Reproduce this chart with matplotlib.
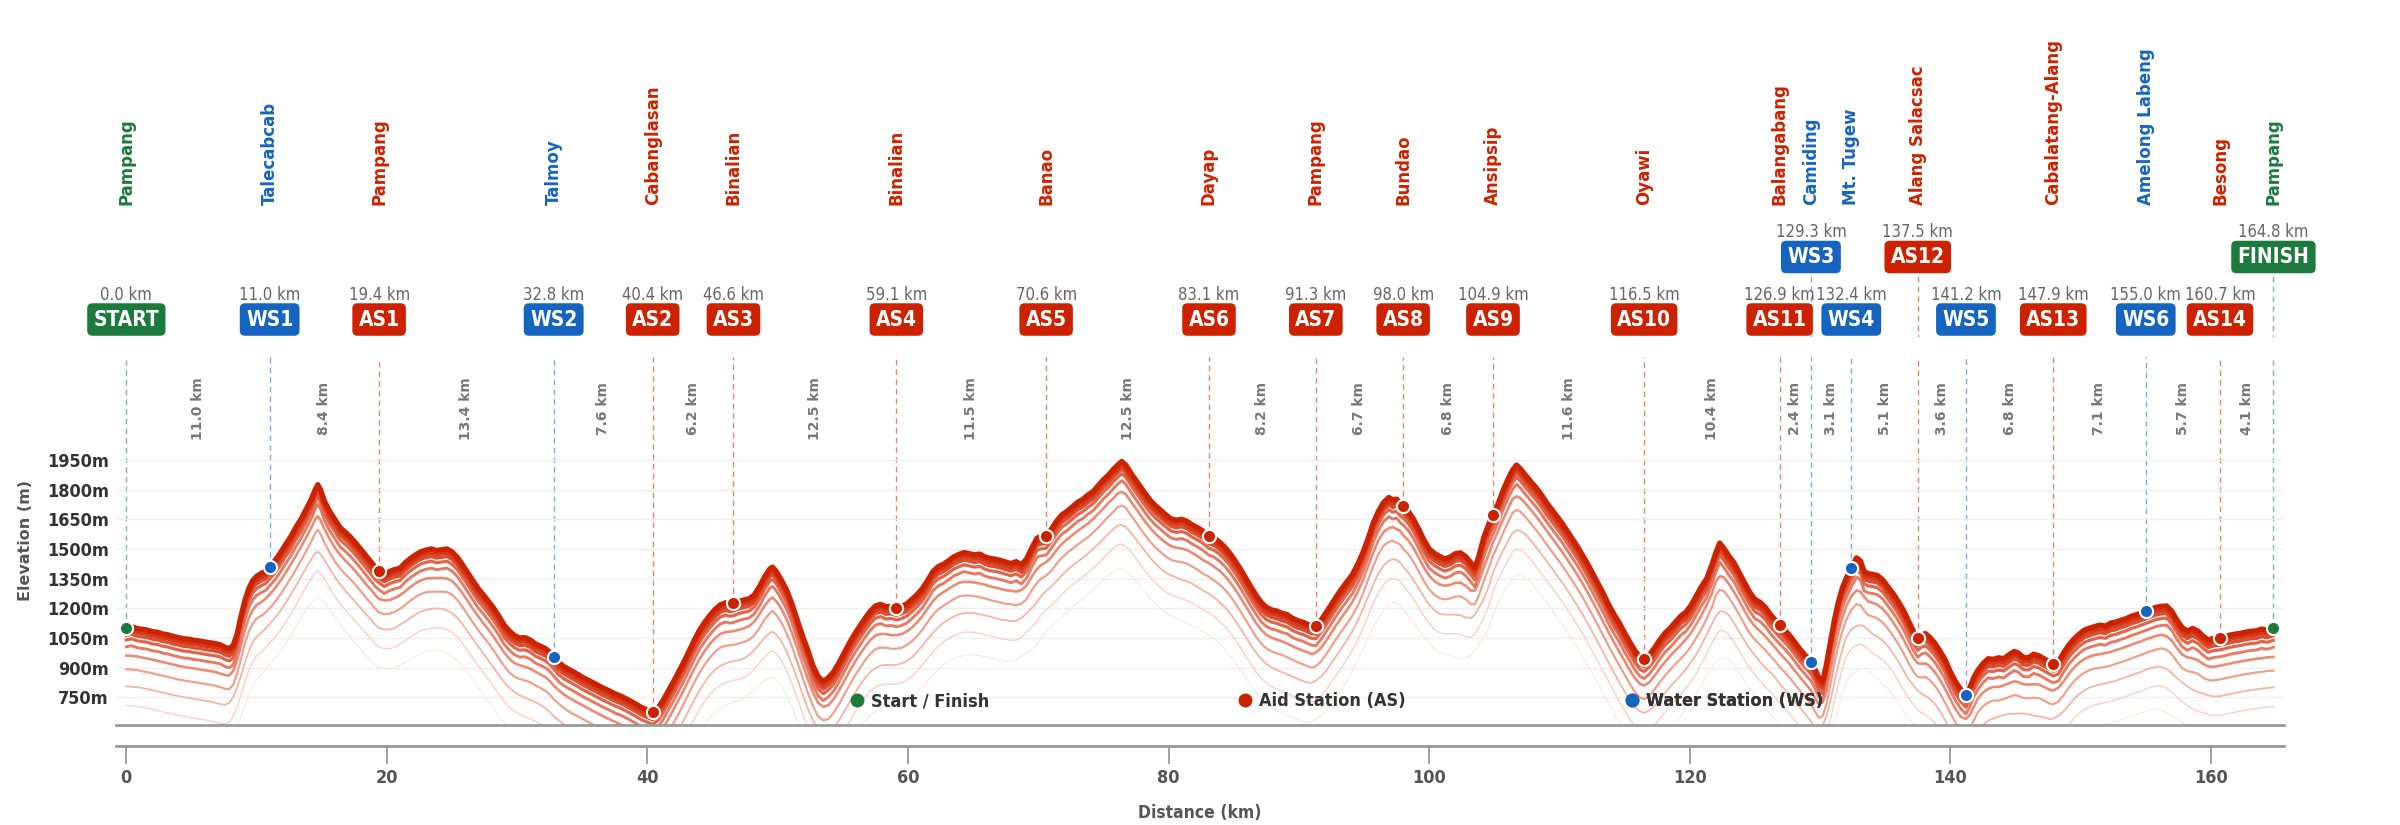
import numpy as np
import matplotlib
matplotlib.use("Agg")
import matplotlib.pyplot as plt
from matplotlib.lines import Line2D

# elevation profile (km, m)
dist = [0.0, 0.4, 0.8, 1.2, 1.6, 2.0, 2.4, 2.8, 3.2, 3.6, 4.0, 4.4, 4.8, 5.2, 5.6, 6.0, 6.4, 6.8, 7.2, 7.6,
        7.9, 8.2, 8.5, 8.8, 9.1, 9.4, 9.7, 10.0, 10.4, 10.7, 11.0, 11.4, 11.8, 12.2, 12.6, 13.0, 13.4, 13.8,
        14.2, 14.5, 14.7, 14.9, 15.2, 15.6, 16.0, 16.4, 16.8, 17.2, 17.6, 18.0, 18.4, 18.8, 19.1, 19.4, 19.8,
        20.2, 20.6, 21.0, 21.4, 21.8, 22.2, 22.6, 23.0, 23.4, 23.8, 24.2, 24.6, 25.0, 25.4, 25.8, 26.2, 26.6,
        27.0, 27.4, 27.8, 28.2, 28.6, 29.0, 29.4, 29.8, 30.2, 30.6, 31.0, 31.4, 31.8, 32.2, 32.5, 32.8, 33.2,
        33.6, 34.0, 34.5, 35.0, 35.5, 36.0, 36.5, 37.0, 37.5, 38.0, 38.5, 39.0, 39.5, 40.0, 40.4, 40.8, 41.2,
        41.6, 42.0, 42.4, 42.8, 43.2, 43.6, 44.0, 44.4, 44.8, 45.2, 45.6, 46.0, 46.3, 46.6, 47.0, 47.4, 47.8,
        48.2, 48.6, 49.0, 49.4, 49.6, 49.9, 50.3, 50.7, 51.1, 51.5, 51.9, 52.3, 52.7, 53.1, 53.5, 53.9, 54.3,
        54.7, 55.1, 55.5, 55.9, 56.3, 56.7, 57.1, 57.5, 57.9, 58.3, 58.7, 59.1, 59.5, 59.9, 60.3, 60.7, 61.1,
        61.5, 61.9, 62.3, 62.7, 63.1, 63.5, 63.9, 64.3, 64.7, 65.1, 65.5, 65.9, 66.3, 66.7, 67.1, 67.5, 67.9,
        68.3, 68.7, 69.1, 69.5, 69.9, 70.2, 70.6, 71.0, 71.4, 71.8, 72.2, 72.6, 73.0, 73.4, 73.8, 74.2, 74.6,
        75.0, 75.4, 75.8, 76.1, 76.4, 76.7, 77.0, 77.4, 77.8, 78.2, 78.6, 79.0, 79.4, 79.8, 80.2, 80.6, 81.0,
        81.4, 81.8, 82.2, 82.6, 83.1, 83.5, 83.9, 84.3, 84.7, 85.1, 85.5, 85.9, 86.3, 86.7, 87.1, 87.5, 87.9,
        88.3, 88.7, 89.1, 89.5, 89.9, 90.3, 90.7, 91.0, 91.3, 91.7, 92.1, 92.5, 92.9, 93.3, 93.7, 94.1, 94.5,
        94.9, 95.3, 95.7, 96.1, 96.5, 96.9, 97.2, 97.5, 97.8, 98.0, 98.4, 98.8, 99.2, 99.6, 100.0, 100.4,
        100.8, 101.2, 101.6, 102.0, 102.4, 102.8, 103.2, 103.5, 103.8, 104.2, 104.6, 104.9, 105.3, 105.7,
        106.1, 106.4, 106.7, 107.0, 107.4, 107.8, 108.2, 108.6, 109.0, 109.4, 109.8, 110.2, 110.6, 111.0,
        111.4, 111.8, 112.2, 112.6, 113.0, 113.4, 113.8, 114.2, 114.6, 115.0, 115.4, 115.8, 116.2, 116.5,
        116.9, 117.3, 117.7, 118.1, 118.5, 118.9, 119.3, 119.7, 120.1, 120.5, 120.9, 121.3, 121.7, 122.0,
        122.3, 122.6, 123.0, 123.4, 123.8, 124.2, 124.6, 125.0, 125.4, 125.8, 126.2, 126.6, 126.9, 127.3,
        127.7, 128.1, 128.5, 128.9, 129.3, 129.6, 129.9, 130.2, 130.5, 130.8, 131.1, 131.4, 131.7, 132.0,
        132.4, 132.8, 133.1, 133.4, 133.7, 134.0, 134.4, 134.8, 135.2, 135.6, 136.0, 136.4, 136.8, 137.2,
        137.5, 137.8, 138.1, 138.4, 138.8, 139.2, 139.6, 140.0, 140.4, 140.8, 141.2, 141.5, 141.8, 142.1,
        142.5, 142.9, 143.3, 143.7, 144.1, 144.5, 144.9, 145.2, 145.6, 146.0, 146.4, 146.8, 147.2, 147.6,
        147.9, 148.3, 148.7, 149.1, 149.5, 149.9, 150.3, 150.7, 151.1, 151.5, 151.9, 152.3, 152.7, 153.1,
        153.5, 153.9, 154.3, 154.7, 155.0, 155.4, 155.8, 156.2, 156.6, 157.0, 157.4, 157.8, 158.2, 158.6,
        159.0, 159.4, 159.8, 160.2, 160.7, 161.1, 161.5, 161.9, 162.3, 162.7, 163.1, 163.5, 163.9, 164.3,
        164.8]
elev = [1102, 1108, 1098, 1094, 1090, 1082, 1079, 1070, 1066, 1058, 1052, 1046, 1044, 1038, 1035, 1030,
        1026, 1022, 1016, 1002, 996, 1012, 1070, 1160, 1240, 1300, 1340, 1362, 1378, 1388, 1410, 1440, 1478,
        1520, 1560, 1608, 1650, 1700, 1752, 1800, 1825, 1800, 1742, 1690, 1650, 1608, 1585, 1560, 1530, 1498,
        1465, 1432, 1408, 1390, 1372, 1386, 1396, 1402, 1430, 1452, 1470, 1486, 1494, 1500, 1492, 1496, 1500,
        1485, 1458, 1420, 1380, 1340, 1300, 1268, 1235, 1200, 1160, 1115, 1085, 1062, 1050, 1052, 1040, 1020,
        1008, 995, 978, 955, 925, 905, 890, 872, 852, 835, 818, 800, 785, 768, 755, 738, 720, 700, 686, 675,
        695, 735, 782, 830, 880, 930, 985, 1040, 1090, 1130, 1165, 1195, 1218, 1228, 1222, 1225, 1235, 1242,
        1248, 1268, 1310, 1360, 1400, 1408, 1385, 1340, 1290, 1220, 1140, 1060, 990, 910, 855, 830, 850, 880,
        925, 975, 1025, 1070, 1110, 1150, 1185, 1212, 1220, 1208, 1210, 1203, 1210, 1222, 1245, 1270, 1300,
        1340, 1385, 1410, 1422, 1440, 1460, 1472, 1482, 1476, 1470, 1474, 1460, 1452, 1448, 1442, 1434, 1426,
        1436, 1420, 1450, 1505, 1555, 1562, 1566, 1600, 1640, 1672, 1690, 1712, 1735, 1750, 1772, 1790, 1820,
        1850, 1875, 1905, 1925, 1942, 1925, 1895, 1855, 1818, 1780, 1745, 1718, 1695, 1672, 1652, 1645, 1650,
        1640, 1622, 1608, 1592, 1565, 1555, 1535, 1510, 1478, 1440, 1400, 1355, 1310, 1268, 1230, 1205, 1192,
        1186, 1175, 1168, 1150, 1138, 1130, 1118, 1110, 1108, 1140, 1180, 1220, 1262, 1300, 1335, 1370, 1420,
        1480, 1550, 1630, 1690, 1735, 1760, 1748, 1752, 1728, 1718, 1690, 1650, 1600, 1545, 1500, 1478, 1462,
        1450, 1458, 1476, 1480, 1462, 1430, 1405, 1460, 1560, 1630, 1672, 1730, 1800, 1860, 1898, 1924, 1905,
        1872, 1840, 1810, 1775, 1735, 1700, 1665, 1630, 1590, 1550, 1510, 1465, 1420, 1370, 1320, 1270, 1215,
        1168, 1125, 1075, 1030, 985, 952, 942, 965, 1000, 1040, 1075, 1100, 1130, 1160, 1180, 1215, 1262, 1310,
        1350, 1420, 1480, 1530, 1505, 1465, 1430, 1380, 1330, 1282, 1245, 1230, 1205, 1168, 1138, 1117, 1090,
        1060, 1025, 990, 960, 930, 895, 850, 830, 920, 1030, 1140, 1230, 1300, 1350, 1405, 1455, 1440, 1385,
        1375, 1372, 1366, 1345, 1310, 1275, 1235, 1190, 1135, 1080, 1050, 1066, 1072, 1055, 1025, 985, 940,
        880, 830, 790, 762, 800, 850, 885, 920, 945, 942, 950, 945, 965, 982, 975, 952, 950, 968, 960, 945,
        930, 920, 930, 975, 1015, 1045, 1070, 1090, 1100, 1108, 1115, 1110, 1125, 1130, 1140, 1148, 1160,
        1168, 1178, 1185, 1195, 1205, 1210, 1212, 1185, 1140, 1102, 1085, 1098, 1085, 1060, 1040, 1048, 1052,
        1058, 1065, 1070, 1074, 1080, 1084, 1086, 1095, 1090, 1100]

# stations
st_km = [0.0, 11.0, 19.4, 32.8, 40.4, 46.6, 59.1, 70.6, 83.1, 91.3, 98.0, 104.9, 116.5, 126.9,
         129.3, 132.4, 137.5, 141.2, 147.9, 155.0, 160.7, 164.8]
st_code = ["START", "WS1", "AS1", "WS2", "AS2", "AS3", "AS4", "AS5", "AS6", "AS7", "AS8", "AS9",
           "AS10", "AS11", "WS3", "WS4", "AS12", "WS5", "AS13", "WS6", "AS14", "FINISH"]
st_name = ["Pampang", "Talecabcab", "Pampang", "Talmoy", "Cabanglasan", "Binalian", "Binalian",
           "Banao", "Dayap", "Pampang", "Bundao", "Ansipsip", "Oyawi", "Balangabang", "Camiding",
           "Mt. Tugew", "Alang Salacsac", "", "Cabalatang-Alang", "Amelong Labeng", "Besong", "Pampang"]
st_row = [1, 1, 1, 1, 1, 1, 1, 1, 1, 1, 1, 1, 1, 1, 2, 1, 2, 1, 1, 1, 1, 2]
seg_labels = ["11.0 km", "8.4 km", "13.4 km", "7.6 km", "6.2 km", "12.5 km", "11.5 km", "12.5 km",
              "8.2 km", "6.7 km", "6.8 km", "11.6 km", "10.4 km", "2.4 km", "3.1 km", "5.1 km",
              "3.6 km", "6.8 km", "7.1 km", "5.7 km", "4.1 km"]
yticks = [750, 900, 1050, 1200, 1350, 1500, 1650, 1800, 1950]
xticks = [0, 20, 40, 60, 80, 100, 120, 140, 160]
legend_labels = ["Start / Finish", "Aid Station (AS)", "Water Station (WS)"]

GREEN, RED, BLUE = "#1b7a3c", "#cc2200", "#1565c0"


def kind_color(code):
    if code in ("START", "FINISH"):
        return GREEN
    if code.startswith("WS"):
        return BLUE
    return RED


COND = dict(family="DejaVu Sans", fontstretch="condensed")

dist = np.array(dist)
elev = np.array(elev, dtype=float)
st_elev = np.interp(st_km, dist, elev)

fig = plt.figure(figsize=(24, 8.25), dpi=100)
ax = fig.add_axes([0.0483, 0.1212, 0.9033, 0.4461])
top = fig.add_axes([0.0483, 0.5915, 0.9033, 0.4085])
xlim = (-0.8, 165.6)
ylim = (610, 2470)

# glow layers, lightest at the bottom
offsets = [505, 394, 297, 212, 143, 97, 62, 38, 20, 0]
colors = ["#fde6e1", "#f9d0c7", "#f4b5a7", "#efa08e", "#eb8b75", "#e77962", "#e2654a", "#db4e30",
          "#d43a1c", "#cc2200"]
widths = [0.8, 1.0, 1.3, 1.6, 1.9, 2.1, 2.3, 2.5, 2.8, 3.8]
smooth = [7, 5, 5, 3, 3, 1, 1, 1, 1, 1]
for off, c, w, s in zip(offsets, colors, widths, smooth):
    if s > 1:
        padded = np.pad(elev, s // 2, mode="edge")
        y = np.convolve(padded, np.ones(s) / s, mode="valid")
    else:
        y = elev
    ax.plot(dist, y - off, color=c, lw=w, solid_joinstyle="round", zorder=2)

for k, e, code in zip(st_km, st_elev, st_code):
    c = kind_color(code)
    ax.vlines(k, e, ylim[1], colors=c, linestyles=(0, (4, 3)), lw=1.0, alpha=0.55, zorder=1)
    ax.plot(k, e, "o", color=c, ms=9.5, mec="white", mew=1.5, zorder=5)

mids = [(a + b) / 2 for a, b in zip(st_km[:-1], st_km[1:])]
for m, lab in zip(mids, seg_labels):
    ax.text(m, 0.861, lab, transform=ax.get_xaxis_transform(), rotation=90, ha="center", va="center",
            fontsize=10, fontweight="bold", color="#777777")

ax.set_xlim(*xlim)
ax.set_ylim(*ylim)
for s in ("top", "right", "left"):
    ax.spines[s].set_visible(False)
ax.spines["bottom"].set_position(("outward", 15))
ax.spines["bottom"].set_color("#999999")
ax.spines["bottom"].set_linewidth(2)
ax.set_yticks(yticks, labels=[f"{t}m" for t in yticks])
ax.set_xticks(xticks, labels=[str(t) for t in xticks])
ax.tick_params(axis="y", length=0, pad=5)
ax.tick_params(axis="x", length=13, width=1.3, color="#999999", pad=4)
for lab in ax.get_yticklabels():
    lab.set(fontweight="bold", color="#333333", fontsize=13, **COND)
for lab in ax.get_xticklabels():
    lab.set(fontweight="bold", color="#555555", fontsize=13, **COND)
ax.grid(axis="y", color="#eeeeee", lw=1.0, zorder=0)
ax.axhline(ylim[0], color="#999999", lw=2, clip_on=False, zorder=6)
ax.set_ylabel("Elevation (m)", fontsize=11.5, fontweight="bold", color="#555555", labelpad=10)
ax.set_xlabel("Distance (km)", fontsize=12.5, fontweight="bold", color="#555555", labelpad=12, **COND)

# one legend entry per slot, evenly spaced
for lab, c, fx in zip(legend_labels, [GREEN, RED, BLUE], [0.3385, 0.5175, 0.6960]):
    h = Line2D([], [], ls="", marker="o", color=c, ms=9)
    leg = ax.legend([h], [lab], loc="center left", bbox_to_anchor=(fx, 0.065), frameon=False,
                    borderpad=0, borderaxespad=0, handletextpad=0.4, handlelength=0.8,
                    prop=dict(size=13, weight="bold", family="DejaVu Sans", stretch="condensed"))
    leg.get_texts()[0].set_color("#333333")
    ax.add_artist(leg)

# annotation strip above the profile
top.set_xlim(*xlim)
top.set_ylim(337, 0)
top.axis("off")
for k, code, name, row in zip(st_km, st_code, st_name, st_row):
    c = kind_color(code)
    by = 319.5 if row == 1 else 257
    top.vlines(k, by, 337, colors=c, linestyles=(0, (4, 3)), lw=1.0, alpha=0.55, zorder=1)
    top.text(k, by, code, ha="center", va="center", fontsize=15, fontweight="bold", color="white",
             zorder=3, bbox=dict(boxstyle="round,pad=0.3,rounding_size=0.25", fc=c, ec="none"), **COND)
    top.text(k, by - 25, f"{k:.1f} km", ha="center", va="center", fontsize=12, color="#666666", **COND)
    if name:
        top.text(k, 205, name, rotation=90, ha="center", va="bottom", fontsize=12, fontweight="bold",
                 color=c)

fig.savefig("out.png", dpi=100)
